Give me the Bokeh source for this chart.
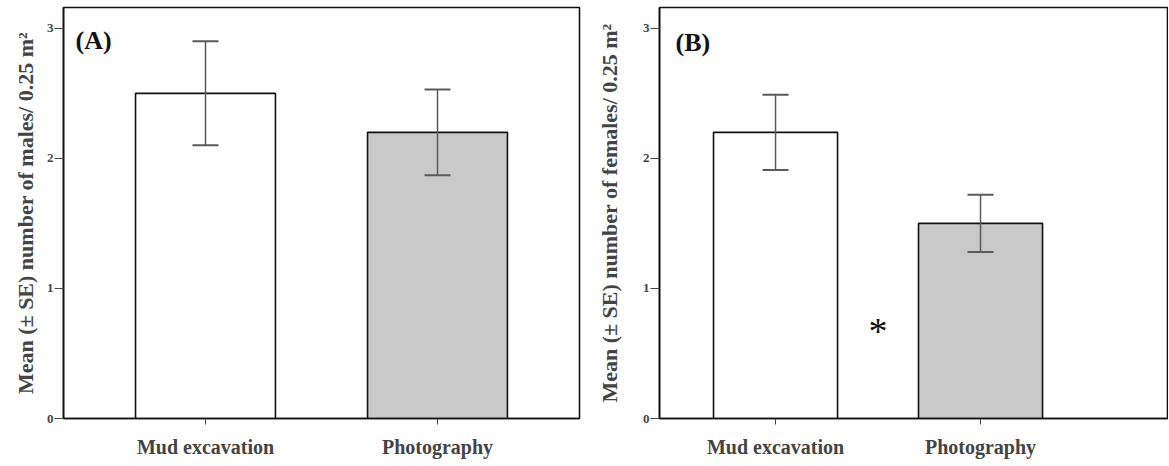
from bokeh.plotting import figure
from bokeh.models import ColumnDataSource, Range1d, FixedTicker, Whisker, TeeHead, Label
from bokeh.layouts import row
from bokeh.embed import file_html
from bokeh.resources import INLINE

categories = ["Mud excavation", "Photography"]
males_mean = [2.5, 2.2]
males_lower = [2.1, 1.87]
males_upper = [2.9, 2.53]
females_mean = [2.2, 1.5]
females_lower = [1.91, 1.28]
females_upper = [2.49, 1.72]
bar_colors = ["#ffffff", "#c9c9c9"]
y_ticks = [0, 1, 2, 3]

FONT = "Liberation Serif"
xpos = [i + 0.5 for i in range(len(categories))]


def make_panel(means, lows, ups, ylabel, tag, width, border_left, border_right,
               xstart, xend, bar_w, tag_x, tag_y, label_standoff):
    src = ColumnDataSource(dict(x=xpos, top=means, lower=lows, upper=ups, color=bar_colors))
    p = figure(width=width, height=460, output_backend="svg", toolbar_location=None,
               x_range=Range1d(xstart, xend), y_range=Range1d(0, 3.16),
               min_border_left=border_left, min_border_right=border_right,
               min_border_top=7, min_border_bottom=36)
    p.vbar(x="x", top="top", bottom=0, width=bar_w, source=src, fill_color="color",
           line_color="#111111", line_width=1.6)
    w = Whisker(base="x", lower="lower", upper="upper", source=src, dimension="height",
                line_color="#5a5a5a", line_width=1.5, level="annotation",
                upper_head=TeeHead(size=26, line_color="#5a5a5a", line_width=2),
                lower_head=TeeHead(size=26, line_color="#5a5a5a", line_width=2))
    p.add_layout(w)
    p.grid.visible = False
    p.outline_line_color = "#111111"
    p.outline_line_width = 1.6
    p.background_fill_color = "white"
    p.border_fill_color = "white"

    p.yaxis.ticker = FixedTicker(ticks=y_ticks)
    p.yaxis.axis_label = ylabel
    p.yaxis.axis_label_text_font = FONT
    p.yaxis.axis_label_text_font_style = "bold"
    p.yaxis.axis_label_text_font_size = "22px"
    p.yaxis.axis_label_standoff = label_standoff
    p.yaxis.major_label_text_font = FONT
    p.yaxis.major_label_text_font_style = "bold"
    p.yaxis.major_label_text_font_size = "13px"
    p.yaxis.major_label_standoff = 1
    p.yaxis.major_tick_out = 9
    p.yaxis.major_tick_in = 0
    p.yaxis.minor_tick_line_color = None
    p.yaxis.axis_line_color = "#111111"
    p.yaxis.axis_line_width = 1.6
    p.yaxis.major_tick_line_color = "#444444"

    p.xaxis.ticker = FixedTicker(ticks=xpos)
    p.xaxis.major_label_overrides = {x: c for x, c in zip(xpos, categories)}
    p.xaxis.major_label_text_font = FONT
    p.xaxis.major_label_text_font_style = "bold"
    p.xaxis.major_label_text_font_size = "20px"
    p.xaxis.major_label_standoff = 11
    p.xaxis.major_tick_out = 6
    p.xaxis.major_tick_in = 0
    p.xaxis.minor_tick_line_color = None
    p.xaxis.axis_line_color = "#111111"
    p.xaxis.axis_line_width = 1.6
    p.xaxis.major_tick_line_color = "#444444"

    p.add_layout(Label(x=tag_x, y=tag_y, text=tag, text_font=FONT, text_font_style="bold",
                       text_font_size="26px", text_baseline="top", text_color="#111111"))
    return p


pA = make_panel(males_mean, males_lower, males_upper,
                "Mean (± SE) number of males/ 0.25 m²", "(A)",
                590, 63, 11, -0.112, 2.112, 0.603, -0.06, 3.02, 6)
pB = make_panel(females_mean, females_lower, females_upper,
                "Mean (± SE) number of females/ 0.25 m²", "(B)",
                578, 69, 0, -0.066, 2.417, 0.605, 0.012, 3.0, 18)
pB.add_layout(Label(x=1.0, y=0.67, text="*", text_font=FONT, text_font_size="38px",
                    text_align="center", text_baseline="middle", text_color="#111111"))

layout = row(pA, pB)
open("out.html", "w").write(file_html(layout, INLINE))
